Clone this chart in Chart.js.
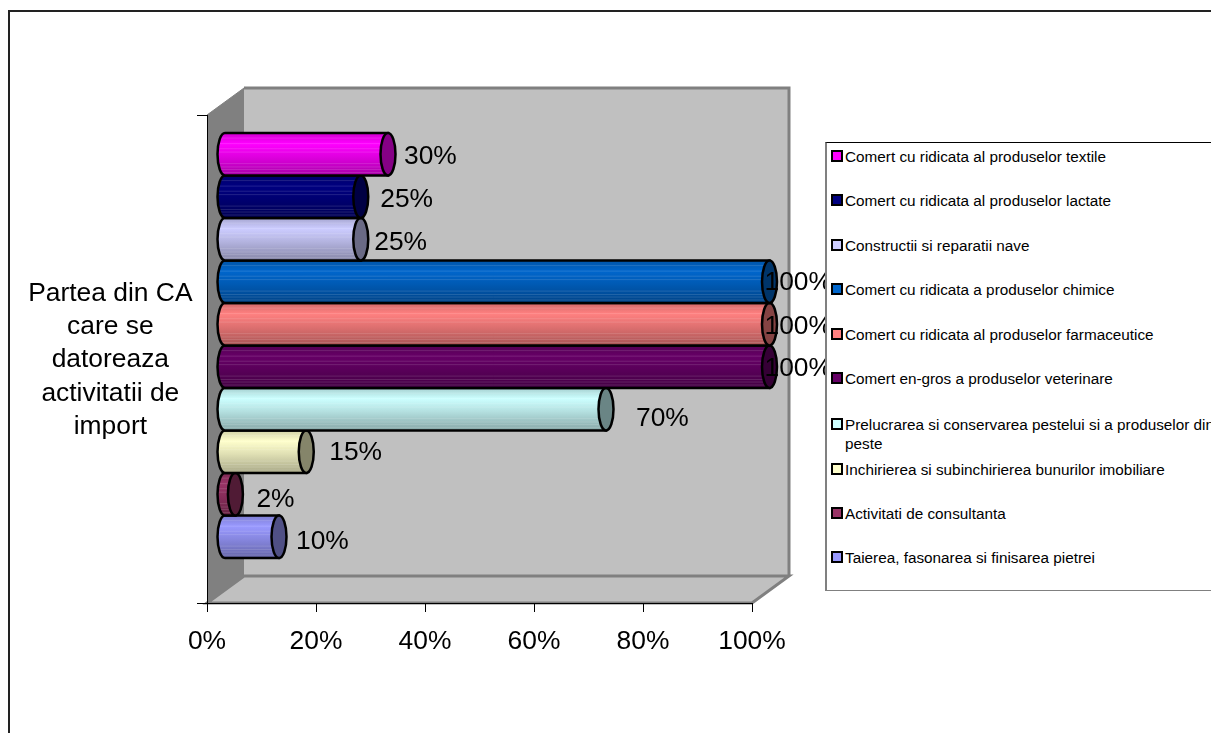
<!DOCTYPE html>
<html>
<head>
<meta charset="utf-8">
<title>Partea din CA</title>
<script src="https://cdn.jsdelivr.net/npm/chart.js@4/dist/chart.umd.min.js"></script>
<style>
html, body { margin: 0; padding: 0; background: #fff; overflow: hidden; }
#wrap { position: relative; width: 1211px; height: 733px; overflow: hidden; }
#frame { position: absolute; left: 8px; top: 10px; width: 1300px; height: 800px; border: 2px solid #222; box-sizing: border-box; }
#chart { position: absolute; left: 0; top: 0; }
#legend { position: absolute; left: 825px; top: 142px; width: 400px; height: 449px; box-sizing: border-box; background: #fff;
    border: 1px solid #808080; border-left-width: 2px; border-top-color: #000; font: 15.3px "Liberation Sans", Arial, sans-serif; color: #000; }
.item { position: absolute; left: 4px; width: 372px; line-height: 19px; padding-left: 14px; }
.key { position: absolute; left: 0; top: 3px; width: 8px; height: 8px; border: 2px solid #000; }
</style>
</head>
<body>
<div id="wrap">
    <div id="frame"></div>
    <canvas id="chart" width="1211" height="733"></canvas>
    <div id="legend"></div>
</div>
<script>
var categories = [['Partea din CA', 'care se', 'datoreaza', 'activitatii de', 'import']];
var seriesNames = [
    'Comert cu ridicata al produselor textile',
    'Comert cu ridicata al produselor lactate',
    'Constructii si reparatii nave',
    'Comert cu ridicata a produselor chimice',
    'Comert cu ridicata al produselor farmaceutice',
    'Comert en-gros a produselor veterinare',
    'Prelucrarea si conservarea pestelui si a produselor din peste',
    'Inchirierea si subinchirierea bunurilor imobiliare',
    'Activitati de consultanta',
    'Taierea, fasonarea si finisarea pietrei'
];
var seriesValues = [30, 25, 25, 100, 100, 100, 70, 15, 2, 10];
var seriesColors = ['#FF00FF', '#000080', '#CCCCFF', '#0066CC', '#FF8080', '#660066', '#CCFFFF', '#FFFFCC', '#993366', '#9999FF'];
var axisTicks = [0, 20, 40, 60, 80, 100];

// data labels are hand placed in the original, so each one has its own nudge
var labelGaps = [16, 19.5, 13.5, -5, -5, -5, 30, 23, 21, 17];
var labelDrops = [1, 2, 2, 0, 1, 1, 8, 0, 4, 4];
var legendTops = [4, 48, 93, 137, 182, 226, 272, 317, 361, 405];
var stripeAt = [0.12, 0.25, 0.37, 0.45, 0.72, 0.8, 0.86, 0.93];

var depthX = 37, depthY = 27;
var barShift = 17.5, capRx = 7.5;
var fontFamily = '"Liberation Sans", Arial, sans-serif';
var labelFont = '26.4px ' + fontFamily;

function shade(hex, f) {
    var n = parseInt(hex.slice(1), 16);
    var r = Math.min(255, Math.round((n >> 16 & 255) * f));
    var g = Math.min(255, Math.round((n >> 8 & 255) * f));
    var b = Math.min(255, Math.round((n & 255) * f));
    return 'rgb(' + r + ',' + g + ',' + b + ')';
}

var wallsPlugin = {
    id: 'walls',
    beforeDraw: function (chart) {
        var c = chart.ctx, a = chart.chartArea;
        var l = a.left, r = a.right, t = a.top, b = a.bottom;
        c.save();
        // back wall
        c.fillStyle = '#C0C0C0';
        c.fillRect(l + depthX, t - depthY, r - l, b - t);
        c.strokeStyle = '#808080';
        c.lineWidth = 3;
        c.beginPath();
        c.moveTo(l + depthX, t - depthY);
        c.lineTo(r + depthX, t - depthY);
        c.lineTo(r + depthX, b - depthY);
        c.stroke();
        // floor
        c.beginPath();
        c.moveTo(l, b);
        c.lineTo(r, b);
        c.lineTo(r + depthX, b - depthY);
        c.lineTo(l + depthX, b - depthY);
        c.closePath();
        c.fill();
        c.stroke();
        // side wall
        c.fillStyle = '#808080';
        c.beginPath();
        c.moveTo(l, t);
        c.lineTo(l + depthX, t - depthY);
        c.lineTo(l + depthX, b - depthY);
        c.lineTo(l, b);
        c.closePath();
        c.fill();
        c.lineWidth = 1;
        c.beginPath();
        c.moveTo(l, t);
        c.lineTo(l + depthX, t - depthY);
        c.stroke();
        c.restore();
    }
};

var cylinderPlugin = {
    id: 'cylinders',
    afterDatasetsDraw: function (chart) {
        var c = chart.ctx;
        for (var i = chart.data.datasets.length - 1; i >= 0; i--) {
            var bar = chart.getDatasetMeta(i).data[0];
            var color = chart.data.datasets[i].cylinderColor;
            var x0 = bar.base + barShift, x1 = bar.x + barShift;
            var top = bar.y - bar.height / 2 - depthY / 2, h = bar.height;
            var ry = h / 2, cy = top + ry;

            var grad = c.createLinearGradient(0, top, 0, top + h);
            grad.addColorStop(0, shade(color, 0.82));
            grad.addColorStop(0.25, shade(color, 1));
            grad.addColorStop(0.55, shade(color, 0.88));
            grad.addColorStop(1, shade(color, 0.66));

            var body = new Path2D();
            body.ellipse(x0, cy, capRx, ry, 0, Math.PI / 2, Math.PI * 1.5);
            body.lineTo(x1, top);
            body.lineTo(x1, top + h);
            body.closePath();

            c.save();
            c.fillStyle = grad;
            c.fill(body);

            // faint banding from the old renderer
            c.save();
            c.clip(body);
            c.strokeStyle = 'rgba(255,255,255,0.13)';
            c.lineWidth = 1;
            stripeAt.forEach(function (f) {
                c.beginPath();
                c.moveTo(x0 - capRx, top + h * f);
                c.lineTo(x1, top + h * f);
                c.stroke();
            });
            c.restore();

            c.lineWidth = 2.5;
            c.strokeStyle = '#000';
            c.stroke(body);
            c.fillStyle = shade(color, 0.52);
            c.beginPath();
            c.ellipse(x1, cy, capRx, ry, 0, 0, Math.PI * 2);
            c.fill();
            c.stroke();
            c.restore();
        }
        // value labels on top of the bars
        c.save();
        c.font = labelFont;
        c.fillStyle = '#000';
        c.textAlign = 'left';
        c.textBaseline = 'middle';
        for (var j = 0; j < chart.data.datasets.length; j++) {
            var el = chart.getDatasetMeta(j).data[0];
            c.fillText(chart.data.datasets[j].data[0] + '%', el.x + barShift + labelGaps[j], el.y - depthY / 2 + 1 + labelDrops[j]);
        }
        c.restore();
    }
};

var datasets = [];
for (var i = 0; i < seriesNames.length; i++) {
    datasets.push({
        label: seriesNames[i],
        data: [seriesValues[i]],
        cylinderColor: seriesColors[i],
        backgroundColor: 'transparent',
        borderWidth: 0
    });
}

new Chart(document.getElementById('chart').getContext('2d'), {
    type: 'bar',
    data: { labels: categories, datasets: datasets },
    plugins: [wallsPlugin, cylinderPlugin],
    options: {
        indexAxis: 'y',
        responsive: false,
        animation: false,
        categoryPercentage: 0.871,
        barPercentage: 1,
        layout: { padding: { left: 0, top: 115, right: 459, bottom: 70 } },
        plugins: { legend: { display: false }, tooltip: { enabled: false } },
        scales: {
            x: {
                min: 0,
                max: 100,
                afterBuildTicks: function (s) {
                    s.ticks = axisTicks.map(function (v) { return { value: v }; });
                },
                afterFit: function (s) { s.height = 60; },
                grid: { drawOnChartArea: false, color: '#000', tickLength: 9, lineWidth: 1 },
                border: { color: '#000', width: 1 },
                ticks: {
                    color: '#000',
                    padding: 14,
                    maxRotation: 0,
                    font: { family: fontFamily, size: 26.4 },
                    callback: function (v) { return v + '%'; }
                }
            },
            y: {
                afterFit: function (s) { s.width = 207; },
                grid: { drawOnChartArea: false, color: '#000', tickLength: 10, offset: true },
                border: { color: '#000', width: 1 },
                ticks: {
                    color: '#000',
                    padding: 4.5,
                    labelOffset: 1,
                    crossAlign: 'center',
                    font: { family: fontFamily, size: 26.4, lineHeight: 1.26 }
                }
            }
        }
    }
});

// legend is a plain html block, it sits over the clipped value labels
var legend = document.getElementById('legend');
seriesNames.forEach(function (name, i) {
    var item = document.createElement('div');
    item.className = 'item';
    item.style.top = legendTops[i] + 'px';
    var key = document.createElement('span');
    key.className = 'key';
    key.style.background = seriesColors[i];
    item.appendChild(key);
    item.appendChild(document.createTextNode(name));
    legend.appendChild(item);
});
</script>
</body>
</html>
